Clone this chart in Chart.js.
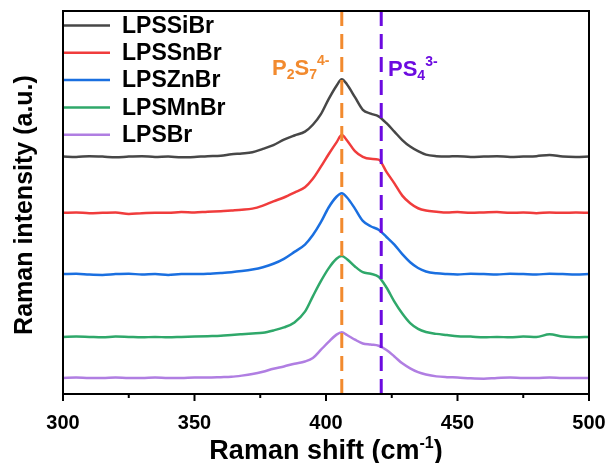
<!DOCTYPE html>
<html>
<head>
<meta charset="utf-8">
<script src="https://cdn.jsdelivr.net/npm/chart.js@4.4.0/dist/chart.umd.min.js"></script>
<style>
  html, body { margin: 0; padding: 0; background: #fff; }
  canvas { display: block; }
</style>
</head>
<body>
<canvas id="raman" width="608" height="463"></canvas>
<script>
// Raman shift grid (cm-1), shared by all spectra
const shift = [300, 305, 310, 315, 320, 325, 330, 335, 340, 345, 350, 355, 360, 364, 368, 372, 376, 380, 384, 388,
  392, 395, 398, 401, 404, 406, 408, 411, 414, 417, 420, 423, 426, 429, 432, 435, 438, 442, 446, 450,
  455, 460, 465, 470, 475, 480, 485, 490, 495, 500];

// stacked intensities (a.u.), offsets already included
const lpsSiBr = [62.0, 61.9, 62.1, 62.0, 61.8, 62.0, 62.1, 61.9, 62.0, 61.8, 61.9, 62.1, 62.2, 62.6, 62.8, 63.1, 64.0, 65.0, 66.4, 67.5,
  68.5, 70.3, 73.0, 77.0, 80.5, 82.2, 80.8, 77.5, 74.2, 73.2, 72.5, 70.7, 68.5, 66.3, 64.6, 63.4, 62.5, 62.1, 62.0, 62.1,
  61.9, 62.0, 62.1, 61.9, 62.0, 62.1, 62.4, 62.0, 61.9, 62.0];
const lpsSnBr = [47.3, 47.4, 47.2, 47.3, 47.4, 47.0, 47.2, 47.3, 47.3, 47.5, 47.4, 47.6, 47.7, 47.9, 48.1, 48.4, 49.2, 50.3, 51.3, 52.6,
  54.0, 56.2, 59.3, 62.6, 65.7, 67.6, 66.2, 63.4, 61.9, 61.4, 61.2, 58.0, 55.0, 51.8, 49.8, 48.5, 47.9, 47.6, 47.4, 47.5,
  47.3, 47.4, 47.5, 47.3, 47.4, 47.2, 47.4, 47.3, 47.4, 47.3];
const lpsZnBr = [31.3, 31.4, 31.2, 31.1, 31.3, 31.4, 31.2, 31.3, 31.1, 31.3, 31.3, 31.4, 31.6, 31.8, 32.1, 32.5, 33.1, 34.0, 35.3, 37.1,
  39.0, 41.5, 44.8, 48.7, 51.5, 52.4, 51.3, 48.4, 45.2, 43.8, 42.9, 41.0, 39.0, 36.5, 34.4, 32.9, 32.0, 31.5, 31.3, 31.2,
  31.4, 31.3, 31.2, 31.4, 31.3, 31.2, 31.4, 31.3, 31.2, 31.3];
const lpsMnBr = [14.9, 15.0, 14.9, 14.8, 15.0, 14.9, 14.8, 14.9, 14.8, 14.9, 15.0, 15.1, 15.2, 15.4, 15.6, 15.8, 16.0, 16.6, 17.4, 18.7,
  21.5, 25.5, 29.4, 32.8, 35.3, 36.0, 35.2, 33.3, 31.8, 31.4, 30.6, 27.8, 24.1, 21.0, 18.5, 17.0, 16.2, 15.7, 15.4, 15.1,
  15.0, 14.8, 14.9, 14.8, 15.0, 14.9, 15.6, 15.0, 14.8, 14.9];
const lpsBr = [4.2, 4.3, 4.2, 4.2, 4.3, 4.2, 4.2, 4.3, 4.2, 4.2, 4.3, 4.3, 4.4, 4.5, 4.8, 5.2, 5.8, 6.6, 7.2, 7.9,
  8.5, 9.4, 11.5, 13.6, 15.5, 16.1, 15.4, 14.2, 13.2, 12.9, 12.6, 11.5, 9.8, 8.0, 6.7, 5.7, 5.1, 4.6, 4.4, 4.3,
  4.1, 4.0, 4.2, 4.3, 4.2, 4.2, 4.3, 4.2, 4.2, 4.2];

const seriesNames = ["LPSSiBr", "LPSSnBr", "LPSZnBr", "LPSMnBr", "LPSBr"];
const seriesData = [lpsSiBr, lpsSnBr, lpsZnBr, lpsMnBr, lpsBr];
const seriesColors = ["#474747", "#f03c3c", "#1a6fe0", "#2fa86a", "#b07ee2"];

// reference band positions (cm-1)
const peakLines = [406, 421];
const peakColors = ["#f28a2e", "#6c0ae0"];

const FONT = "'Liberation Sans', Arial, sans-serif";

// draws text made of runs with their own size and vertical shift
function drawRuns(ctx, runs, x, y, color) {
  ctx.fillStyle = color;
  ctx.textBaseline = "alphabetic";
  ctx.textAlign = "left";
  for (const r of runs) {
    ctx.font = "bold " + r.size + "px " + FONT;
    ctx.fillText(r.t, x, y + (r.dy || 0));
    x += ctx.measureText(r.t).width;
  }
}

function runsWidth(ctx, runs) {
  let w = 0;
  for (const r of runs) {
    ctx.font = "bold " + r.size + "px " + FONT;
    w += ctx.measureText(r.t).width;
  }
  return w;
}

const decorations = {
  id: "decorations",
  afterDatasetsDraw(chart) {
    const ctx = chart.ctx;
    const a = chart.chartArea;
    const xs = chart.scales.x;
    ctx.save();

    // dashed band markers
    ctx.lineWidth = 3;
    ctx.setLineDash([15, 8]);
    peakLines.forEach((v, i) => {
      const px = xs.getPixelForValue(v);
      ctx.strokeStyle = peakColors[i];
      ctx.beginPath();
      ctx.moveTo(px, a.top);
      ctx.lineTo(px, a.bottom);
      ctx.stroke();
    });
    ctx.setLineDash([]);

    // band labels
    drawRuns(ctx, [
      { t: "P", size: 22 }, { t: "2", size: 14, dy: 4 }, { t: "S", size: 22 },
      { t: "7", size: 14, dy: 4 }, { t: "4-", size: 14, dy: -10 }
    ], 272, 75, peakColors[0]);
    drawRuns(ctx, [
      { t: "PS", size: 22 }, { t: "4", size: 14, dy: 4 }, { t: "3-", size: 14, dy: -10 }
    ], 388, 76, peakColors[1]);

    // legend
    chart.data.datasets.forEach((ds, i) => {
      const y = 25.5 + i * 27.3;
      ctx.strokeStyle = ds.borderColor;
      ctx.lineWidth = 2.5;
      ctx.beginPath();
      ctx.moveTo(a.left, y);
      ctx.lineTo(a.left + 47, y);
      ctx.stroke();
      ctx.fillStyle = "#000";
      ctx.font = "bold 23px " + FONT;
      ctx.textBaseline = "middle";
      ctx.textAlign = "left";
      ctx.fillText(ds.label, a.left + 59, y + 1);
    });

    // frame and x ticks
    ctx.strokeStyle = "#000";
    ctx.lineWidth = 2;
    ctx.strokeRect(a.left, a.top, a.right - a.left, a.bottom - a.top);
    for (let v = 300; v <= 500; v += 25) {
      const px = xs.getPixelForValue(v);
      ctx.beginPath();
      ctx.moveTo(px, a.bottom);
      ctx.lineTo(px, a.bottom + (v % 50 === 0 ? 7 : 4));
      ctx.stroke();
    }

    // axis titles
    const title = [{ t: "Raman shift (cm", size: 27 }, { t: "-1", size: 16, dy: -11 }, { t: ")", size: 27 }];
    const cx = (a.left + a.right) / 2;
    drawRuns(ctx, title, cx - runsWidth(ctx, title) / 2, 459, "#000");

    ctx.translate(32, 205);
    ctx.rotate(-Math.PI / 2);
    ctx.fillStyle = "#000";
    ctx.textAlign = "center";
    ctx.textBaseline = "alphabetic";
    ctx.font = "bold 25px " + FONT;
    ctx.fillText("Raman intensity (a.u.)", 0, 0);
    ctx.restore();
  }
};

new Chart(document.getElementById("raman"), {
  type: "line",
  data: {
    datasets: seriesNames.map((name, i) => ({
      label: name,
      data: shift.map((x, j) => ({ x, y: seriesData[i][j] })),
      borderColor: seriesColors[i],
      borderWidth: 2.5,
      pointRadius: 0,
      cubicInterpolationMode: "monotone",
      fill: false,
    })),
  },
  options: {
    responsive: false,
    animation: false,
    devicePixelRatio: 1,
    layout: { padding: { top: 11, right: 19, left: 0, bottom: 0 } },
    plugins: {
      legend: { display: false },
      tooltip: { enabled: false },
    },
    scales: {
      x: {
        type: "linear",
        min: 300,
        max: 500,
        ticks: {
          stepSize: 50,
          color: "#000",
          padding: 9,
          font: { family: FONT, size: 20, weight: "bold" },
        },
        grid: { display: false },
        border: { display: false },
        afterFit: (s) => { s.height = 69; s.paddingLeft = 0; s.paddingRight = 0; },
      },
      y: {
        min: 0,
        max: 100,
        ticks: { display: false },
        grid: { display: false },
        border: { display: false },
        afterFit: (s) => { s.width = 63; },
      },
    },
  },
  plugins: [decorations],
});
</script>
</body>
</html>
